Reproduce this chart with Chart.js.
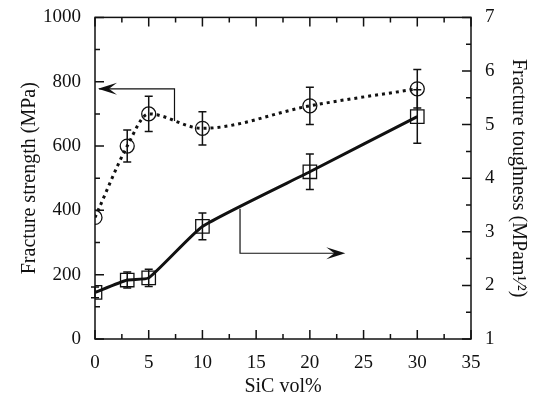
<!DOCTYPE html>
<html>
<head>
<meta charset="utf-8">
<script src="https://cdn.jsdelivr.net/npm/chart.js@4.4.1/dist/chart.umd.min.js"></script>
<style>
  body { margin: 0; background: #fff; }
  #wrap { width: 540px; height: 403px; }
</style>
</head>
<body>
<div id="wrap"><canvas id="myChart"></canvas></div>
<script>
// data
var sicVol = [0, 3, 5, 10, 20, 30];
var strength = [378, 600, 700, 655, 725, 778];
var strengthErr = [0, 50, 55, 52, 58, 60];
var toughness = [1.87, 2.1, 2.14, 3.1, 4.12, 5.15];
var toughnessErr = [0.1, 0.15, 0.16, 0.25, 0.33, 0.5];

var xTicks = [0, 5, 10, 15, 20, 25, 30, 35];
var leftTicks = [0, 200, 400, 600, 800, 1000];
var rightTicks = [1, 2, 3, 4, 5, 6, 7];

var serif = "'Liberation Serif', 'DejaVu Serif', serif";

function pts(xs, ys) {
    var out = [];
    for (var i = 0; i < xs.length; i++) out.push({ x: xs[i], y: ys[i] });
    return out;
}

// frame, inward ticks, error bars, arrows
var extras = {
    id: 'extras',
    beforeDatasetsDraw: function(chart) {
        var ctx = chart.ctx, a = chart.chartArea;
        var sx = chart.scales.x, sl = chart.scales.y, sr = chart.scales.y2;
        ctx.save();
        ctx.strokeStyle = '#111';
        ctx.lineWidth = 1.5;
        ctx.strokeRect(a.left, a.top, a.right - a.left, a.bottom - a.top);

        ctx.beginPath();
        for (var v = 0; v <= 35; v += 2.5) {
            var px = sx.getPixelForValue(v);
            var len = (v % 5 === 0) ? 9 : 5;
            ctx.moveTo(px, a.bottom); ctx.lineTo(px, a.bottom - len);
            ctx.moveTo(px, a.top); ctx.lineTo(px, a.top + len);
        }
        for (var s = 0; s <= 1000; s += 100) {
            var py = sl.getPixelForValue(s);
            var l2 = (s % 200 === 0) ? 9 : 5;
            ctx.moveTo(a.left, py); ctx.lineTo(a.left + l2, py);
        }
        for (var t = 1; t <= 7; t += 0.5) {
            var py2 = sr.getPixelForValue(t);
            var l3 = (t % 1 === 0) ? 9 : 5;
            ctx.moveTo(a.right, py2); ctx.lineTo(a.right - l3, py2);
        }
        ctx.stroke();

        // error bars
        ctx.lineWidth = 1.5;
        function bars(vals, errs, scale) {
            for (var i = 0; i < sicVol.length; i++) {
                if (!errs[i]) continue;
                var x = sx.getPixelForValue(sicVol[i]);
                var y1 = scale.getPixelForValue(vals[i] + errs[i]);
                var y2 = scale.getPixelForValue(vals[i] - errs[i]);
                ctx.beginPath();
                ctx.moveTo(x, y1); ctx.lineTo(x, y2);
                ctx.moveTo(x - 4, y1); ctx.lineTo(x + 4, y1);
                ctx.moveTo(x - 4, y2); ctx.lineTo(x + 4, y2);
                ctx.stroke();
            }
        }
        bars(strength, strengthErr, sl);
        bars(toughness, toughnessErr, sr);

        // arrow to the left axis
        ctx.lineWidth = 1.2;
        var ax = sx.getPixelForValue(7.4);
        var ay = sl.getPixelForValue(778);
        ctx.beginPath();
        ctx.moveTo(ax, sl.getPixelForValue(678));
        ctx.lineTo(ax, ay);
        ctx.lineTo(a.left + 4, ay);
        ctx.stroke();
        ctx.beginPath();
        ctx.moveTo(a.left + 3, ay);
        ctx.lineTo(a.left + 22, ay - 6);
        ctx.lineTo(a.left + 14, ay);
        ctx.lineTo(a.left + 22, ay + 6);
        ctx.closePath();
        ctx.fillStyle = '#111';
        ctx.fill();

        // arrow to the right axis
        var bx = sx.getPixelForValue(13.5);
        var by = sr.getPixelForValue(2.6);
        var ex = sx.getPixelForValue(23.3);
        ctx.beginPath();
        ctx.moveTo(bx, sr.getPixelForValue(3.43));
        ctx.lineTo(bx, by);
        ctx.lineTo(ex - 4, by);
        ctx.stroke();
        ctx.beginPath();
        ctx.moveTo(ex, by);
        ctx.lineTo(ex - 19, by - 6);
        ctx.lineTo(ex - 11, by);
        ctx.lineTo(ex - 19, by + 6);
        ctx.closePath();
        ctx.fill();
        ctx.restore();
    }
};

new Chart(document.getElementById('myChart'), {
    type: 'line',
    data: {
        datasets: [
            {
                label: 'Fracture strength',
                data: pts(sicVol, strength),
                yAxisID: 'y',
                borderColor: '#111',
                borderWidth: 3,
                borderDash: [3, 4],
                cubicInterpolationMode: 'monotone',
                pointStyle: 'circle',
                pointRadius: 7,
                pointBorderWidth: 1.3,
                pointBorderColor: '#111',
                pointBackgroundColor: 'rgba(255,255,255,0)',
                fill: false
            },
            {
                label: 'Fracture toughness',
                data: pts(sicVol, toughness),
                yAxisID: 'y2',
                borderColor: '#111',
                borderWidth: 3,
                tension: 0.15,
                pointStyle: 'rect',
                pointRadius: 9.5,
                pointBorderWidth: 1.3,
                pointBorderColor: '#111',
                pointBackgroundColor: 'rgba(255,255,255,0)',
                fill: false
            }
        ]
    },
    options: {
        responsive: true,
        maintainAspectRatio: false,
        animation: false,
        layout: { padding: { top: 12, left: 14, right: 6, bottom: 0 } },
        plugins: { legend: { display: false }, tooltip: { enabled: false } },
        scales: {
            x: {
                type: 'linear', min: 0, max: 35,
                afterFit: function(s) { s.height = 64; },
                afterBuildTicks: function(s) { s.ticks = xTicks.map(function(v) { return { value: v }; }); },
                grid: { display: false },
                border: { display: false },
                ticks: { color: '#111', padding: 5, font: { family: serif, size: 19 } },
                title: { display: true, text: 'SiC vol%', color: '#111', padding: { top: 8 }, font: { family: serif, size: 20 } }
            },
            y: {
                position: 'left', min: 0, max: 1000,
                afterFit: function(s) { s.width = 81; },
                afterBuildTicks: function(s) { s.ticks = leftTicks.map(function(v) { return { value: v }; }); },
                grid: { display: false },
                border: { display: false },
                ticks: { color: '#111', padding: 6, font: { family: serif, size: 19 },
                    callback: function(v) { return String(v); } },
                title: { display: true, text: 'Fracture strength (MPa)', color: '#111', padding: { bottom: 4 }, font: { family: serif, size: 20 } }
            },
            y2: {
                position: 'right', min: 1, max: 7,
                afterFit: function(s) { s.width = 63; },
                afterBuildTicks: function(s) { s.ticks = rightTicks.map(function(v) { return { value: v }; }); },
                grid: { display: false },
                border: { display: false },
                ticks: { color: '#111', padding: 6, font: { family: serif, size: 19 } },
                title: { display: true, text: 'Fracture toughness (MPam\u00B9\u2044\u00B2)', color: '#111', padding: { top: 4 }, font: { family: serif, size: 20 } }
            }
        }
    },
    plugins: [extras]
});
</script>
</body>
</html>
